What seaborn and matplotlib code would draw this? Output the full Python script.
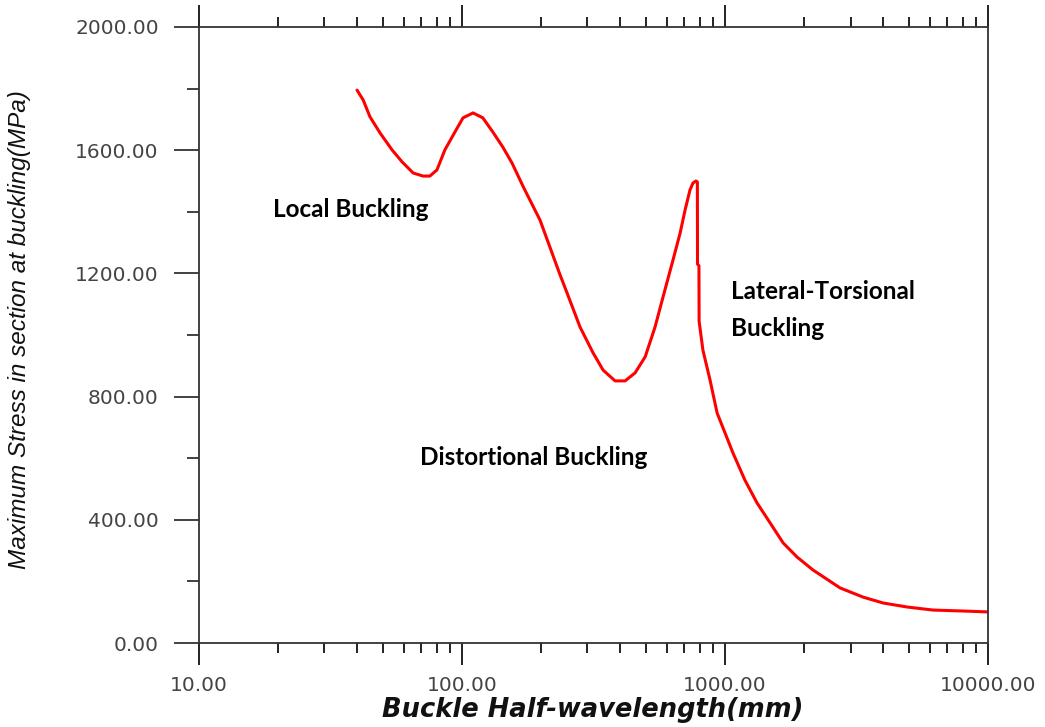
import matplotlib
matplotlib.use("Agg")
import matplotlib.pyplot as plt
from matplotlib.ticker import FixedLocator, LogLocator, FuncFormatter, NullFormatter
import numpy as np
import pandas as pd
import seaborn as sns

# Signature curve: buckle half-wavelength (mm) vs. maximum stress (MPa)
half_wavelength = [39.9, 42.1, 44.7, 48.8, 54.2, 59.2, 65.2, 71.1, 75.5, 80.3,
                   86.1, 94.0, 100.9, 110.2, 120, 131, 143, 155, 171, 198,
                   236, 251, 281, 315, 344, 382, 417, 455, 497, 542,
                   581, 634, 675, 705, 736, 755, 775, 785, 786, 796,
                   797, 824, 877, 933, 1072, 1190, 1323, 1484, 1663, 1880,
                   2161, 2737, 3350, 3990, 4920, 6180, 8000, 10000]
max_stress = [1795, 1763, 1708, 1656, 1601, 1562, 1526, 1516, 1516, 1536,
              1601, 1659, 1705, 1721, 1705, 1659, 1610, 1558, 1481, 1373,
              1195, 1136, 1026, 942, 886, 851, 851, 877, 929, 1026,
              1123, 1243, 1331, 1406, 1471, 1493, 1500, 1497, 1230, 1225,
              1045, 951, 854, 747, 617, 529, 455, 390, 325, 279,
              237, 179, 149, 130, 117, 107, 104, 101]

y_major = [0, 400, 800, 1200, 1600, 2000]
y_minor = [200, 600, 1000, 1400, 1800]
x_major = [10, 100, 1000, 10000]

mode_labels = ["Local Buckling", "Distortional Buckling", "Lateral-Torsional\nBuckling"]
mode_x = [19.1, 69.2, 1055]
mode_y = [1406, 601, 1081]

sns.set_style("ticks")
plt.rcParams["font.family"] = ["DejaVu Sans"]

fig = plt.figure(figsize=(10.45, 7.27), dpi=100)
ax = fig.add_axes([0.1904, 0.1155, 0.9455 - 0.1904, 0.9629 - 0.1155])

df = pd.DataFrame({"x": half_wavelength, "y": max_stress})
sns.lineplot(data=df, x="x", y="y", ax=ax, sort=False, estimator=None,
             color="#ff0000", linewidth=2.2)

ax.set_xscale("log")
ax.set_xlim(10, 10000)
ax.set_ylim(0, 2000)

axis_col = "#333333"
for s in ax.spines.values():
    s.set_visible(True)
    s.set_color(axis_col)
    s.set_linewidth(1.3)

ax.xaxis.set_major_locator(FixedLocator(x_major))
ax.xaxis.set_minor_locator(LogLocator(base=10, subs=np.arange(2, 10)))
ax.xaxis.set_major_formatter(FuncFormatter(lambda v, p: f"{v:.2f}"))
ax.xaxis.set_minor_formatter(NullFormatter())
ax.yaxis.set_major_locator(FixedLocator(y_major))
ax.yaxis.set_minor_locator(FixedLocator(y_minor))
ax.yaxis.set_major_formatter(FuncFormatter(lambda v, p: f"{v:.2f}"))

ax.tick_params(axis="x", which="major", direction="out", length=16, width=1.3,
               color="#111111", top=True, bottom=True, labelsize=14.5,
               labelcolor="#444444", pad=8)
ax.tick_params(axis="x", which="minor", direction="out", length=7, width=1.3,
               color="#111111", top=True, bottom=True)
ax.tick_params(axis="y", which="major", direction="out", length=18, width=1.3,
               color=axis_col, left=True, right=False, labelsize=14.5,
               labelcolor="#444444", pad=11)
ax.tick_params(axis="y", which="minor", direction="out", length=9, width=1.3,
               color=axis_col, left=True, right=False)

ax.set_xlabel("")
ax.set_ylabel("")
fig.text(0.567, 0.023, "Buckle Half-wavelength(mm)", ha="center", va="center",
         fontsize=18.5, fontweight="bold", fontstyle="italic",
         family=["DejaVu Sans"], color="#111111")
fig.text(0.019, 0.546, "Maximum Stress in section at buckling(MPa)",
         rotation=90, ha="center", va="center", fontsize=17.5,
         fontstyle="italic", family=["Liberation Sans Narrow", "Liberation Sans"],
         color="#111111")

for lbl, xv, yv in zip(mode_labels, mode_x, mode_y):
    ax.text(xv, yv, lbl, ha="left", va="center", fontsize=17.5,
            fontweight="bold", family=["Lato", "DejaVu Sans"], color="black",
            linespacing=1.75)

fig.savefig("out.png", dpi=100)
